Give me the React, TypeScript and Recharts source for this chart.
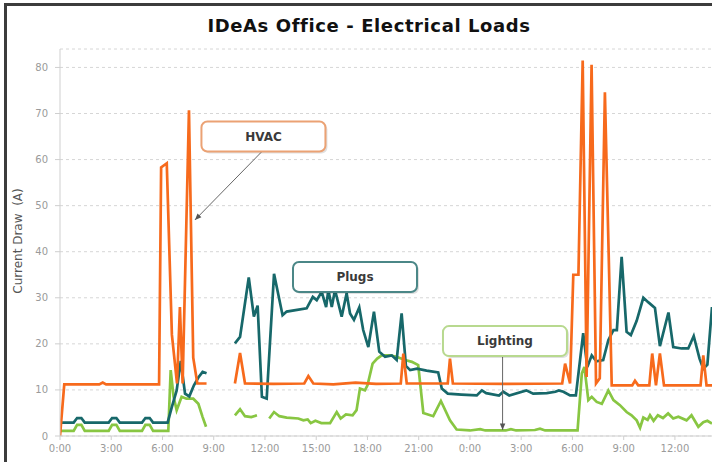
import React from 'react';
import {
  LineChart,
  Line,
  XAxis,
  YAxis,
  CartesianGrid,
  ReferenceDot,
  ReferenceLine,
} from 'recharts';

// hours since midnight of day 1, current draw in amps (null = no reading)
const hvac: [number, number | null][] = [
  [0, 0], [0.25, 11.2], [2.3, 11.2], [2.5, 11.6], [2.7, 11.2], [5.8, 11.2],
  [5.92, 58.3], [6.25, 59.2], [6.55, 22], [6.85, 11.4], [7.02, 28], [7.18, 11.4],
  [7.55, 70.7], [7.8, 17], [8.04, 11.4], [8.58, 11.4], [9.4, null],
  [10.24, 11.4], [10.54, 18], [10.83, 11.4], [12.5, 11.3], [14.3, 11.4], [14.54, 13],
  [14.83, 11.4], [16, 11.2], [17.3, 11.6], [18.5, 11.3], [19.95, 11.4], [20.1, 17.9],
  [20.3, 11.4], [22.7, 11.4], [22.83, 16.8], [23.0, 11.4], [26, 11.3], [29.4, 11.4],
  [29.57, 15.7], [29.86, 11.4], [30.05, 35], [30.35, 35], [30.6, 81.5], [30.83, 12.8],
  [31.12, 80.6], [31.38, 11.4], [31.6, 12.5], [31.9, 74.6], [32.3, 11], [33.5, 11],
  [33.66, 12], [33.85, 11], [34.5, 11], [34.67, 17.9], [34.89, 11], [35.12, 17.9],
  [35.36, 11], [37.5, 11], [37.66, 17.5], [37.85, 11], [38.2, 11],
];

const plugs: [number, number | null][] = [
  [0, 2.9], [0.8, 2.9], [1.0, 3.9], [1.25, 3.9], [1.45, 2.9], [2.85, 2.9], [3.05, 3.9],
  [3.3, 3.9], [3.5, 2.9], [4.8, 2.9], [5.0, 3.9], [5.25, 3.9], [5.45, 2.9], [6.3, 2.9],
  [6.55, 6.3], [6.83, 9.9], [7.07, 16.3], [7.32, 9.2], [7.57, 8.6], [7.84, 11],
  [8.1, 12.7], [8.35, 13.9], [8.58, 13.6], [9.4, null],
  [10.24, 20.1], [10.54, 21.5], [11.05, 34.4], [11.35, 25.9], [11.57, 28.3], [11.82, 8.5],
  [12.1, 8.1], [12.53, 35.2], [13.03, 26.2], [13.27, 27], [14.44, 27.7], [14.8, 30.2],
  [15.03, 29.5], [15.32, 31.3], [15.58, 28], [15.71, 31.7], [15.91, 28], [16.1, 31.7],
  [16.49, 25.9], [16.78, 31], [16.98, 26.6], [17.21, 25.2], [17.52, 27.9], [17.75, 23],
  [18.05, 19.3], [18.38, 27], [18.69, 18.3], [19.03, 17.2], [19.42, 17.5], [19.71, 16.5],
  [20.0, 26.6], [20.25, 15.2], [20.5, 14.3], [20.9, 14.6], [21.46, 14.2], [22.14, 13.8],
  [22.35, 10.3], [22.7, 9.2], [23.5, 9.0], [24.4, 8.8], [24.7, 9.9], [24.95, 9.3],
  [25.7, 8.8], [25.95, 9.6], [26.3, 8.8], [27.3, 9.9], [27.7, 9.2], [28.5, 9.3],
  [29.0, 9.6], [29.2, 9.9], [29.47, 9.6], [29.86, 8.8], [30.2, 8.8], [30.63, 22.3],
  [30.87, 15], [31.13, 17.5], [31.4, 16.2], [31.8, 16.5], [32.1, 20.8], [32.4, 23],
  [32.6, 23], [32.88, 38.9], [33.17, 22.6], [33.42, 21.9], [33.76, 25], [34.15, 30],
  [34.45, 29], [34.83, 27.8], [35.12, 19.5], [35.62, 26.8], [35.9, 19.3], [36.39, 19],
  [36.78, 19], [37.1, 21.7], [37.44, 16.8], [37.66, 14.6], [37.9, 15.5], [38.17, 28],
];

const lighting: [number, number | null][] = [
  [0, 1.1], [0.8, 1.1], [1.0, 2.4], [1.25, 2.4], [1.45, 1.1], [2.85, 1.1], [3.05, 2.4],
  [3.3, 2.4], [3.5, 1.1], [4.8, 1.1], [5.0, 2.4], [5.25, 2.4], [5.45, 1.1], [6.34, 1.1],
  [6.48, 14.3], [6.65, 8.5], [6.83, 5.6], [7.12, 8.5], [7.4, 8.1], [7.8, 8.1], [8.1, 7],
  [8.35, 4.1], [8.55, 2], [9.4, null],
  [10.24, 4.5], [10.54, 5.8], [10.83, 4.3], [11.2, 4.1], [11.53, 4.5], [11.9, null],
  [12.25, 3.8], [12.53, 5.2], [12.84, 4.3], [13.27, 4], [13.95, 3.8], [14.25, 3.4],
  [14.5, 3.6], [14.68, 2.8], [14.95, 3.3], [15.3, 2.8], [15.81, 2.8], [16.2, 5.2],
  [16.43, 3.8], [16.74, 4.7], [17.13, 4.5], [17.36, 5.6], [17.56, 10.3], [17.85, 9.9],
  [18.0, 11], [18.3, 15.7], [18.57, 16.8], [18.83, 17.5], [19.32, 17.5], [19.7, 17.2],
  [20.2, 16.5], [20.6, 16.1], [20.97, 15.4], [21.27, 5], [21.85, 4.3], [22.3, 7.6],
  [22.83, 3.4], [23.22, 1.4], [24.0, 1.2], [24.6, 1.5], [24.9, 1.2], [26.1, 1.2],
  [26.4, 1.5], [26.7, 1.2], [27.8, 1.3], [28.1, 1.6], [28.4, 1.2], [30.3, 1.2],
  [30.55, 13.6], [30.7, 15], [30.93, 7.8], [31.13, 8.5], [31.42, 7.4], [31.72, 7],
  [32.1, 9.9], [32.4, 7.8], [32.78, 6.7], [33.17, 5.2], [33.46, 4.5], [33.76, 3.4],
  [33.96, 1.8], [34.15, 4], [34.4, 3.5], [34.54, 4.5], [34.75, 3.3], [35.0, 4.5],
  [35.3, 3.9], [35.6, 4.9], [35.9, 3.8], [36.2, 4.2], [36.68, 3.4], [36.97, 4.5],
  [37.37, 2], [37.66, 3], [37.9, 3.3], [38.17, 2.7],
];

const xTicks = [0, 3, 6, 9, 12, 15, 18, 21, 24, 27, 30, 33, 36];
const yTicks = [0, 10, 20, 30, 40, 50, 60, 70, 80];

// callout boxes: label, anchor (hour, amps), border colour
const calloutLabels = ['HVAC', 'Plugs', 'Lighting'];
const calloutAnchors: [number, number][] = [[11.91, 65.0], [17.27, 34.5], [26.05, 20.6]];
const calloutColors = ['#eba274', '#4b8787', '#b8d98f'];
const arrowSegments: [number, number][][] = [
  [[11.81, 61.7], [7.9, 46.9]],
  [[25.91, 17.3], [25.91, 1.3]],
];

const toRows = (pts: [number, number | null][]) => pts.map(([h, v]) => ({ h, v }));

const font = '"DejaVu Sans", Verdana, sans-serif';

const CalloutBox = (label: string, color: string) => (props: any) => {
  const { cx, cy } = props;
  if (cx == null || cy == null) return null;
  const w = 124;
  const hgt = 30;
  return (
    <g>
      <rect x={cx - w / 2 + 2} y={cy - hgt / 2 + 2} width={w} height={hgt} rx={6} fill="rgba(0,0,0,0.12)" />
      <rect x={cx - w / 2} y={cy - hgt / 2} width={w} height={hgt} rx={6} fill="#fff" stroke={color} strokeWidth={2} />
      <text
        x={cx}
        y={cy}
        textAnchor="middle"
        dominantBaseline="central"
        fontFamily={font}
        fontSize={12}
        fontWeight="bold"
        fill="#3a3a3a"
      >
        {label}
      </text>
    </g>
  );
};

const Arrow = (props: any) => {
  const { x1, y1, x2, y2 } = props;
  if ([x1, y1, x2, y2].some((v) => v == null || isNaN(v))) return null;
  const a = Math.atan2(y2 - y1, x2 - x1);
  const len = 7;
  const spread = 0.4;
  const p1 = [x2 - len * Math.cos(a - spread), y2 - len * Math.sin(a - spread)];
  const p2 = [x2 - len * Math.cos(a + spread), y2 - len * Math.sin(a + spread)];
  return (
    <g>
      <line x1={x1} y1={y1} x2={x2} y2={y2} stroke="#666" strokeWidth={1} />
      <polygon points={`${x2},${y2} ${p1[0]},${p1[1]} ${p2[0]},${p2[1]}`} fill="#555" />
    </g>
  );
};

export default function App() {
  return (
    <div
      style={{
        position: 'absolute',
        left: 0,
        top: 0,
        width: 712,
        height: 462,
        overflow: 'hidden',
        background: '#fff',
        fontFamily: font,
      }}
    >
      <div
        style={{
          position: 'absolute',
          left: 4,
          top: 3,
          width: 720,
          height: 470,
          borderLeft: '3px solid #3c3c3c',
          borderTop: '3px solid #3c3c3c',
        }}
      />
      <div
        style={{
          position: 'absolute',
          left: 369,
          top: 25,
          transform: 'translate(-50%, -50%)',
          whiteSpace: 'nowrap',
          fontSize: 18,
          letterSpacing: 0.6,
          fontWeight: 'bold',
          color: '#111',
        }}
      >
        IDeAs Office - Electrical Loads
      </div>
      <div
        style={{
          position: 'absolute',
          left: 18,
          top: 241,
          transform: 'translate(-50%, -50%) rotate(-90deg)',
          whiteSpace: 'nowrap',
          fontSize: 12,
          color: '#555',
        }}
      >
        Current Draw&nbsp;&nbsp;(A)
      </div>
      <div style={{ position: 'absolute', left: 0, top: 0 }}>
        <LineChart width={712} height={480} margin={{ top: 49, right: 0, left: 0, bottom: 14 }}>
          <CartesianGrid vertical={false} stroke="#d6d6d6" strokeDasharray="3 3" />
          <XAxis
            dataKey="h"
            type="number"
            domain={[0, 38.17]}
            ticks={xTicks}
            allowDataOverflow
            tickFormatter={(h: number) => `${h % 24}:00`}
            stroke="#cfcfcf"
            tickSize={4}
            tickMargin={5}
            height={30}
            tick={{ fill: '#9a9a9a', fontSize: 10, fontFamily: font }}
          />
          <YAxis
            type="number"
            domain={[0, 84]}
            ticks={yTicks}
            allowDataOverflow
            width={60}
            stroke="#cfcfcf"
            tickSize={5}
            tickMargin={7}
            tick={{ fill: '#9a9a9a', fontSize: 10, fontFamily: font }}
          />
          <Line
            data={toRows(lighting)}
            dataKey="v"
            type="linear"
            stroke="#88c642"
            strokeWidth={2.7}
            dot={false}
            isAnimationActive={false}
          />
          <Line
            data={toRows(plugs)}
            dataKey="v"
            type="linear"
            stroke="#17686a"
            strokeWidth={2.7}
            dot={false}
            isAnimationActive={false}
          />
          <Line
            data={toRows(hvac)}
            dataKey="v"
            type="linear"
            stroke="#f76a1c"
            strokeWidth={2.7}
            dot={false}
            isAnimationActive={false}
          />
          {arrowSegments.map((seg, i) => (
            <ReferenceLine
              key={`arrow-${i}`}
              segment={seg.map(([x, y]) => ({ x, y }))}
              shape={Arrow}
              ifOverflow="visible"
            />
          ))}
          {calloutLabels.map((label, i) => (
            <ReferenceDot
              key={label}
              x={calloutAnchors[i][0]}
              y={calloutAnchors[i][1]}
              r={1}
              shape={CalloutBox(label, calloutColors[i])}
              ifOverflow="visible"
            />
          ))}
        </LineChart>
      </div>
    </div>
  );
}
